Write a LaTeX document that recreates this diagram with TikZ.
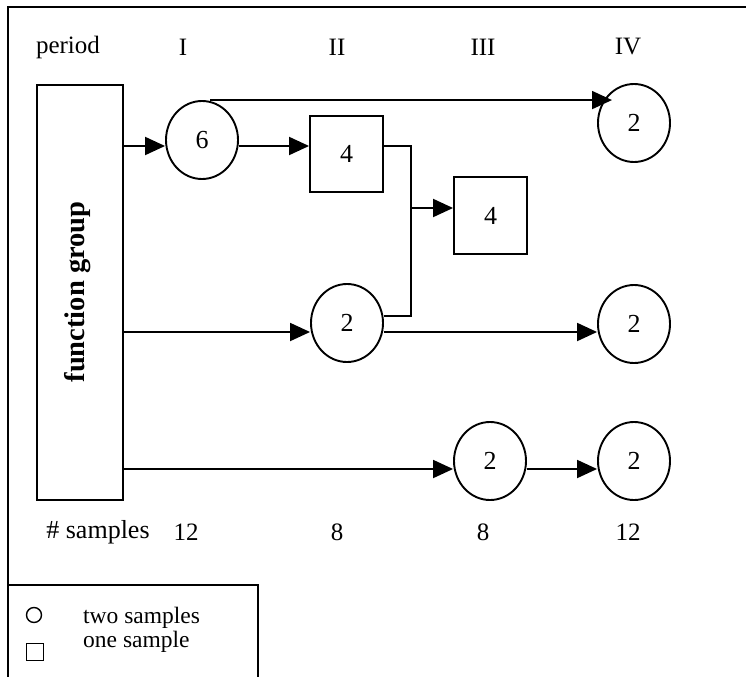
\documentclass[tikz,border=0pt]{standalone}
\usepackage{fontspec}
\setmainfont{Liberation Serif}
\usetikzlibrary{arrows.meta,shapes.geometric}
\begin{document}
\begin{tikzpicture}[x=1pt,y=-1pt,
  lw/.style={line width=1.9pt},
  arr/.style={lw,-{Triangle[length=20pt,width=18pt]}},
  circ/.style={ellipse,draw,lw,minimum width=72pt,minimum height=78pt,inner sep=0pt,font=\fontsize{26}{30}\selectfont},
  sq/.style={rectangle,draw,lw,minimum width=73pt,minimum height=76pt,inner sep=0pt,font=\fontsize{26}{30}\selectfont},
  lbl/.style={font=\fontsize{25}{29}\selectfont,inner sep=0pt},
  leg/.style={font=\fontsize{23.5}{27}\selectfont,inner sep=0pt,anchor=base west}]
\useasboundingbox (0,0) rectangle (746,677);
% frame
\draw[line width=2.2pt] (746,7) -- (8,7) -- (8,677);
\draw[line width=2.2pt] (8,585) -- (258,585) -- (258,677);
% header
\node[lbl] (hp) at (68,47) {period};
\node[lbl] (h1) at (183,47) {I};
\node[lbl] (h2) at (337,47) {II};
\node[lbl] (h3) at (483,47) {III};
\node[lbl] (h4) at (628,47) {IV};
% footer
\node[lbl,font=\fontsize{26}{30}\selectfont] (fp) at (98,532) {\# samples};
\node[lbl] (f1) at (186,532) {12};
\node[lbl] (f2) at (337,532) {8};
\node[lbl] (f3) at (483,532) {8};
\node[lbl] (f4) at (628,532) {12};
% function group
\node[draw,lw,minimum width=86pt,minimum height=415pt,inner sep=0pt] (fg) at (80,292.5) {};
\node[rotate=90,font=\fontsize{28.5}{32}\selectfont\bfseries,inner sep=0pt] (fgt) at (78,292) {function group};
% nodes
\node[circ] (c6) at (202,140) {6};
\node[circ] (c4t) at (634,123) {2};
\node[sq] (s4a) at (346.5,154) {4};
\node[sq,minimum height=77pt] (s4b) at (490.5,215.5) {4};
\node[circ] (c2a) at (347,323) {2};
\node[circ] (c2b) at (634,324) {2};
\node[circ] (c2c) at (490,461) {2};
\node[circ] (c2d) at (634,461) {2};
% row coordinates
\coordinate (r1) at (0,146);
\coordinate (rt) at (612,101);
\coordinate (r3) at (0,208);
\coordinate (r4) at (0,316);
\coordinate (r5) at (0,332);
\coordinate (r6) at (0,469);
\coordinate (jx) at (411,0);
% connectors
\draw[arr] (fg.east |- r1) -- (c6.west |- r1);
\draw[arr] (c6.east |- r1) -- (s4a.west |- r1);
\draw[arr] ([xshift=8pt]c6.north) -- (c6.north -| rt);
\draw[lw] (s4a.east |- r1) -- (jx |- r1) -- (jx |- r4) -- (c2a.east |- r4);
\draw[arr] (jx |- r3) -- (s4b.west |- r3);
\draw[arr] (fg.east |- r5) -- (c2a.west |- r5);
\draw[arr] (c2a.east |- r5) -- (c2b.west |- r5);
\draw[arr] (fg.east |- r6) -- (c2c.west |- r6);
\draw[arr] (c2c.east |- r6) -- (c2d.west |- r6);
% legend
\node[circle,draw,line width=1.4pt,minimum size=15pt,inner sep=0pt] (lc) at (34,615) {};
\node[rectangle,draw,line width=1.4pt,minimum size=17pt,inner sep=0pt] (ls) at (35,652) {};
\node[leg] (lt1) at (83,623) {two samples};
\node[leg] (lt2) at (83,647) {one sample};
\end{tikzpicture}
\end{document}
